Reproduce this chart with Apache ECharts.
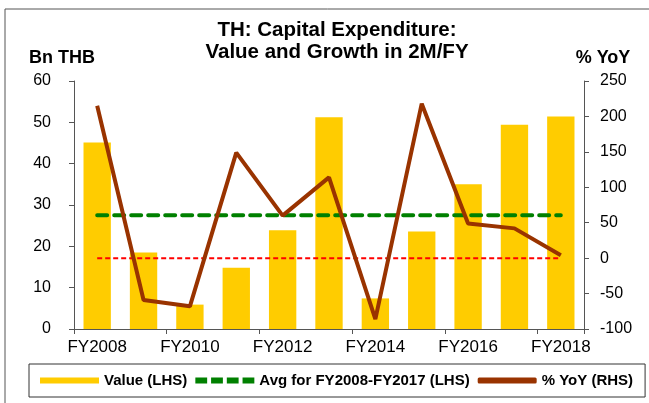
<!DOCTYPE html>
<html>
<head>
<meta charset="utf-8">
<script src="https://cdn.jsdelivr.net/npm/echarts@6/dist/echarts.min.js"></script>
<style>
  html, body { margin: 0; padding: 0; background: #fff; }
  #main { width: 649px; height: 403px; }
</style>
</head>
<body>
<div id="main"></div>
<script>
// data
var years = ['FY2008', 'FY2009', 'FY2010', 'FY2011', 'FY2012', 'FY2013',
             'FY2014', 'FY2015', 'FY2016', 'FY2017', 'FY2018'];
var capexValue = [45.1, 18.5, 5.9, 14.8, 23.9, 51.2, 7.4, 23.6, 35.0, 49.4, 51.4];
var yoyGrowth = [215, -59, -68, 149, 60, 114, -86, 218, 49, 42, 4];
var avgLevel = 27.5;
var avgLine = years.map(function () { return avgLevel; });
var zeroLine = years.map(function () { return 0; });

var FONT = '"Liberation Sans", Arial, sans-serif';
// legend icons: four dashes for the average, a plain bar for % YoY
var DASH_ICON = 'path://M0,0h12v6h-12z M16,0h12v6h-12z M32,0h12v6h-12z M48,0h12v6h-12z';

var chart = echarts.init(document.getElementById('main'));

var option = {
  animation: false,
  backgroundColor: '#fff',
  textStyle: { fontFamily: FONT },
  graphic: [
    // outer frame
    { type: 'rect', shape: { x: 5, y: 9, width: 700, height: 450 },
      style: { fill: 'none', stroke: '#555', lineWidth: 1 }, z: -1 },
    { type: 'text', style: {
        text: 'TH: Capital Expenditure:\nValue and Growth in 2M/FY',
        x: 337, y: 41, align: 'center', verticalAlign: 'middle',
        font: 'bold 20.5px ' + FONT, lineHeight: 22, fill: '#000' } },
    { type: 'text', style: {
        text: 'Bn THB', x: 62, y: 58, align: 'center', verticalAlign: 'middle',
        font: 'bold 18px ' + FONT, fill: '#000' } },
    { type: 'text', style: {
        text: '% YoY', x: 603, y: 58, align: 'center', verticalAlign: 'middle',
        font: 'bold 18px ' + FONT, fill: '#000' } }
  ],
  legend: {
    left: 29, top: 364,
    padding: [9, 12, 9, 11],
    borderColor: '#333', borderWidth: 1,
    itemWidth: 59, itemHeight: 6, itemGap: 8,
    symbolKeepAspect: false,
    data: [
      { name: 'Value (LHS)', icon: 'rect' },
      { name: 'Avg for FY2008-FY2017 (LHS)', icon: DASH_ICON },
      { name: '% YoY (RHS)', icon: 'roundRect' }
    ],
    textStyle: { fontFamily: FONT, fontSize: 15, fontWeight: 'bold', color: '#000' }
  },
  grid: { left: 74, right: 65, top: 81, bottom: 74 },
  xAxis: {
    type: 'category',
    data: years,
    boundaryGap: true,
    axisLine: { lineStyle: { color: '#555', width: 1 } },
    axisTick: { show: true, length: 5, lineStyle: { color: '#555' } },
    axisLabel: { interval: 1, margin: 10, fontSize: 17, color: '#000', fontFamily: FONT }
  },
  yAxis: [
    {
      type: 'value', min: 0, max: 60, interval: 10, position: 'left',
      splitLine: { show: false },
      axisLine: { show: true, lineStyle: { color: '#555' } },
      axisTick: { show: true, inside: false, length: 5, lineStyle: { color: '#555' } },
      axisLabel: { margin: 23, fontSize: 16, color: '#000', fontFamily: FONT }
    },
    {
      type: 'value', min: -100, max: 250, interval: 50, position: 'right',
      splitLine: { show: false },
      axisLine: { show: true, lineStyle: { color: '#555' } },
      axisTick: { show: true, length: 5, lineStyle: { color: '#555' } },
      axisLabel: { margin: 16, fontSize: 16, color: '#000', fontFamily: FONT }
    }
  ],
  series: [
    {
      name: 'Value (LHS)', type: 'bar', yAxisIndex: 0,
      data: capexValue, barWidth: '59%',
      itemStyle: { color: '#FFCC00' }
    },
    {
      name: 'zero', type: 'line', yAxisIndex: 1,
      data: zeroLine, symbol: 'none', silent: true,
      lineStyle: { color: '#FF0000', width: 2, type: [5, 3] }
    },
    {
      name: 'Avg for FY2008-FY2017 (LHS)', type: 'line', yAxisIndex: 0,
      data: avgLine, symbol: 'none',
      lineStyle: { color: '#008000', width: 4, type: [10, 7], cap: 'round' },
      itemStyle: { color: '#008000' }
    },
    {
      name: '% YoY (RHS)', type: 'line', yAxisIndex: 1,
      data: yoyGrowth, symbol: 'none',
      lineStyle: { color: '#993300', width: 4 },
      itemStyle: { color: '#993300' }
    }
  ]
};

chart.setOption(option);
</script>
</body>
</html>
